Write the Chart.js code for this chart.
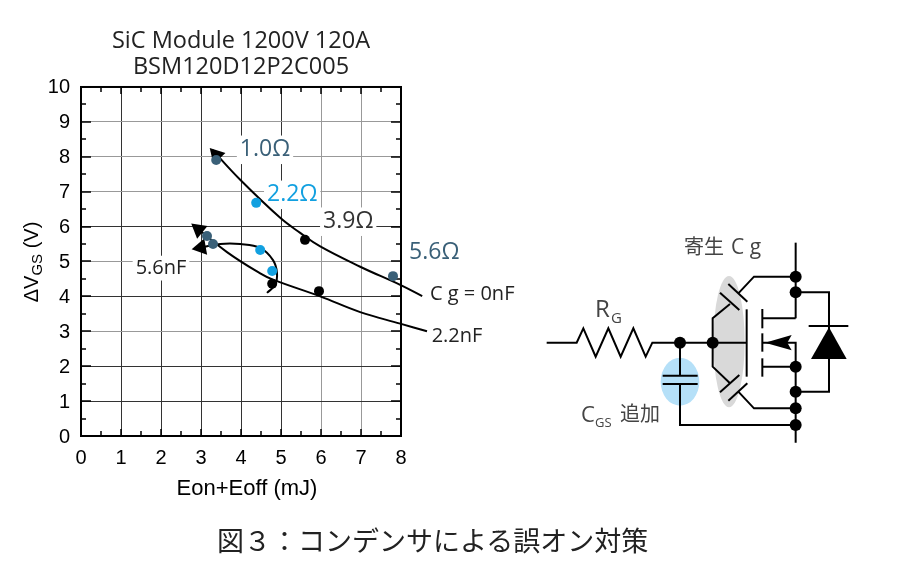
<!DOCTYPE html>
<html lang="ja">
<head>
<meta charset="utf-8">
<title>図3</title>
<script src="https://cdn.jsdelivr.net/npm/chart.js@4/dist/chart.umd.js"></script>
<style>
html,body{margin:0;padding:0;background:#fff;width:900px;height:570px;overflow:hidden}
#wrap{position:relative;width:900px;height:570px}
canvas{position:absolute;left:0;top:0}
svg{position:absolute;left:0;top:0}
.c{font-family:"Open Sans",sans-serif;fill:#444}
.j{font-family:"Noto Sans CJK JP",sans-serif;fill:#444}
#cap{position:absolute;left:217px;top:520px;font:27px/40px "Noto Sans CJK JP",sans-serif;color:#222;white-space:nowrap}
</style>
</head>
<body>
<div id="wrap">
<canvas id="c" width="900" height="570"></canvas>
<svg width="900" height="570" viewBox="0 0 900 570">
  <g transform="translate(530,230) scale(0.33333)" fill="none" stroke="#000" stroke-width="6" stroke-linejoin="miter">
    <ellipse cx="597" cy="335" rx="47" ry="197" fill="#d9d9d9" stroke="none"/>
    <ellipse cx="450" cy="455" rx="58" ry="72" fill="#b5e0f8" stroke="none"/>
    <polyline points="50,338 140,338 160,295 197,380 235,295 272,380 310,295 347,380 367,338 650,338"/>
    <polyline points="450,338 450,437"/>
    <polyline points="450,462 450,585 797,585"/>
    <line x1="398" y1="437" x2="503" y2="437"/>
    <line x1="398" y1="462" x2="503" y2="462"/>
    <polyline points="600,222 548,265 548,410 600,460"/>
    <line x1="570" y1="188" x2="628" y2="240"/>
    <line x1="595" y1="162" x2="652" y2="215"/>
    <polyline points="625,190 672,140 797,140"/>
    <line x1="570" y1="487" x2="628" y2="435"/>
    <line x1="595" y1="512" x2="652" y2="460"/>
    <polyline points="625,485 672,535 797,535"/>
    <line x1="650" y1="238" x2="650" y2="440"/>
    <line x1="697" y1="237" x2="697" y2="295"/>
    <line x1="697" y1="310" x2="697" y2="365"/>
    <line x1="697" y1="385" x2="697" y2="440"/>
    <line x1="797" y1="38" x2="797" y2="265"/>
    <line x1="797" y1="265" x2="697" y2="265"/>
    <line x1="697" y1="410" x2="797" y2="410"/>
    <polyline points="697,338 797,338 797,638"/>
    <polyline points="797,187 897,187 897,485 797,485"/>
    <line x1="836" y1="288" x2="955" y2="288"/>
    <polygon points="897,292 843,387 950,387" fill="#000" stroke="none"/>
    <polygon points="705,338 785,315 772,338 785,361" fill="#000" stroke="none"/>
    <g fill="#000" stroke="none">
      <circle cx="450" cy="338" r="18"/><circle cx="548" cy="338" r="18"/>
      <circle cx="797" cy="140" r="18"/><circle cx="797" cy="187" r="18"/>
      <circle cx="797" cy="410" r="18"/><circle cx="797" cy="485" r="18"/>
      <circle cx="797" cy="535" r="18"/><circle cx="797" cy="585" r="18"/>
    </g>
  </g>
  <text x="684" y="254" class="j" font-size="20">寄生</text>
  <text x="731" y="254" class="c" font-size="21">C g</text>
  <text x="595" y="317" class="c" font-size="24">R</text>
  <text x="611" y="323" class="c" font-size="15">G</text>
  <text x="581" y="422" class="c" font-size="22">C</text>
  <text x="595" y="427" class="c" font-size="13">GS</text>
  <text x="620" y="421" class="j" font-size="20">追加</text>
</svg>
<div id="cap">図&#xFF13;&#xFF1A;コンデンサによる誤オン対策</div>
</div>
<script>
const titleLines = ['SiC Module 1200V 120A', 'BSM120D12P2C005'];
const xAxisTitle = 'Eon+Eoff (mJ)';
const yAxisParts = ['ΔV', 'GS', ' (V)'];
const xTicks = [0,1,2,3,4,5,6,7,8];
const yTicks = [0,1,2,3,4,5,6,7,8,9,10];
const grayX = [6,7];
const grayY = [9,8,7,5,3];

const tealX = [3.38,3.15,3.3,7.8];
const tealY = [7.91,5.73,5.5,4.58];
const blueX = [4.38,4.48,4.78];
const blueY = [6.68,5.33,4.73];
const blackX = [5.6,5.95,4.78];
const blackY = [5.62,4.15,4.36];

const cg0X = [3.28,3.98,4.98,5.48,5.98,6.98,7.98,8.53];
const cg0Y = [8.2,7.34,6.25,5.82,5.43,4.85,4.33,4.01];
const cg22X = [2.8,3.65,4.48,4.8,5.98,6.98,7.98,8.65];
const cg22Y = [6.05,5.27,4.66,4.48,4.0,3.55,3.22,3.0];
const cg56X = [2.83,3.48,3.98,4.48,4.8,4.9,4.85,4.65];
const cg56Y = [5.36,5.5,5.5,5.39,5.04,4.67,4.33,4.1];

const arrowX = [3.38,2.94,3.0];
const arrowY = [8.05,5.92,5.4];
const arrowAngle = [-43,-51,-100];

const labelText = ['1.0Ω','2.2Ω','3.9Ω','5.6Ω','C g = 0nF','2.2nF','5.6nF'];
const labelX = [4.6,5.28,6.68,8.83,9.78,9.4,2.0];
const labelY = [8.2,6.91,6.14,5.25,4.05,2.87,4.81];
const labelColor = ['#3a6078','#12a0e0','#333','#3a6078','#222','#222','#222'];
const labelSize = [23,23,23,23,20,20,20];

const pts = (xs,ys)=>xs.map((x,i)=>({x,y:ys[i]}));
const FONT_LABEL = '"Open Sans",sans-serif';
const FONT_AXIS = '"Liberation Sans",Arial,sans-serif';

const decor = {
  id:'decor',
  beforeDatasetsDraw(chart){
    const {ctx,scales:{x,y},chartArea:a}=chart;
    ctx.save();
    ctx.strokeStyle='#000';ctx.lineWidth=1.5;ctx.beginPath();
    for(let v=0;v<=8;v+=0.5){
      const px=Math.round(x.getPixelForValue(v));
      const len=Number.isInteger(v)?7:5;
      ctx.moveTo(px,a.top);ctx.lineTo(px,a.top+len);
      ctx.moveTo(px,a.bottom);ctx.lineTo(px,a.bottom-len);
    }
    for(let v=0;v<=10;v+=0.5){
      const py=Math.round(y.getPixelForValue(v));
      const len=Number.isInteger(v)?10:5;
      ctx.moveTo(a.left,py);ctx.lineTo(a.left+len,py);
      ctx.moveTo(a.right,py);ctx.lineTo(a.right-len,py);
    }
    ctx.stroke();
    ctx.lineWidth=2;ctx.strokeRect(a.left,a.top,a.right-a.left,a.bottom-a.top);
    ctx.textBaseline='middle';ctx.textAlign='left';
    labelText.forEach((t,i)=>{
      ctx.font=labelSize[i]+'px '+FONT_LABEL;
      const px=x.getPixelForValue(labelX[i]),py=y.getPixelForValue(labelY[i]);
      const w=ctx.measureText(t).width;
      ctx.fillStyle='#fff';
      ctx.fillRect(px-w/2-3,py-labelSize[i]*0.62,w+6,labelSize[i]*1.24);
      ctx.fillStyle=labelColor[i];
      ctx.fillText(t,px-w/2,py);
    });
    ctx.restore();
  },
  afterDraw(chart){
    const {ctx}=chart;
    ctx.save();
    ctx.fillStyle='#000';ctx.textBaseline='alphabetic';ctx.textAlign='center';
    ctx.font='22px '+FONT_AXIS;
    ctx.fillText(xAxisTitle,247,495);
    ctx.textAlign='left';
    ctx.translate(32,262);ctx.rotate(-Math.PI/2);
    const f1='20px '+FONT_AXIS,f2='15px '+FONT_AXIS;
    ctx.font=f1;const w0=ctx.measureText(yAxisParts[0]).width,w2=ctx.measureText(yAxisParts[2]).width;
    ctx.font=f2;const w1=ctx.measureText(yAxisParts[1]).width;
    let cx=-(w0+w1+w2)/2;
    ctx.font=f1;ctx.fillText(yAxisParts[0],cx,6);cx+=w0;
    ctx.font=f2;ctx.fillText(yAxisParts[1],cx,10);cx+=w1;
    ctx.font=f1;ctx.fillText(yAxisParts[2],cx,6);
    ctx.restore();
  }
};

const line=(label,xs,ys)=>({label,data:pts(xs,ys),showLine:true,borderColor:'#000',borderWidth:2,pointRadius:0,tension:0.4,clip:false,fill:false});
const dots=(label,xs,ys,c)=>({label,data:pts(xs,ys),showLine:false,backgroundColor:c,borderColor:c,pointRadius:5,pointBorderWidth:0,clip:false});

new Chart(document.getElementById('c'),{
  type:'scatter',
  plugins:[decor],
  data:{datasets:[
    dots('teal',tealX,tealY,'#3a6078'),
    dots('blue',blueX,blueY,'#12a0e0'),
    dots('black',blackX,blackY,'#000'),
    line('Cg = 0nF',cg0X,cg0Y),
    line('2.2nF',cg22X,cg22Y),
    line('5.6nF',cg56X,cg56Y),
    {label:'arrows',data:pts(arrowX,arrowY),showLine:false,pointStyle:'triangle',pointRadius:9.5,pointBorderWidth:0,backgroundColor:'#000',borderColor:'#000',pointRotation:arrowAngle,clip:false}
  ]},
  options:{
    responsive:false,animation:false,devicePixelRatio:1,
    layout:{padding:{left:0,top:28,right:499,bottom:62}},
    plugins:{
      legend:{display:false},tooltip:{enabled:false},
      title:{display:true,text:titleLines,fullSize:false,color:'#222',
        font:{family:FONT_LABEL,size:23.5,weight:'normal',lineHeight:1.106},padding:{top:0,bottom:7}}
    },
    scales:{
      x:{type:'linear',min:0,max:8,afterFit(s){s.height=72;},
        afterBuildTicks(s){s.ticks=xTicks.map(value=>({value}));},
        grid:{drawTicks:false,lineWidth:1,color:c=>grayX.includes(c.tick&&c.tick.value)?'#999':'#333'},
        border:{display:false},
        ticks:{padding:10,color:'#000',font:{family:FONT_AXIS,size:20},maxRotation:0}},
      y:{type:'linear',min:0,max:10,afterFit(s){s.width=81;},
        afterBuildTicks(s){s.ticks=yTicks.map(value=>({value}));},
        grid:{drawTicks:false,lineWidth:1,color:c=>grayY.includes(c.tick&&c.tick.value)?'#999':'#333'},
        border:{display:false},
        ticks:{padding:11,labelOffset:1,color:'#000',font:{family:FONT_AXIS,size:20}}}
    }
  }
});
</script>
</body>
</html>
